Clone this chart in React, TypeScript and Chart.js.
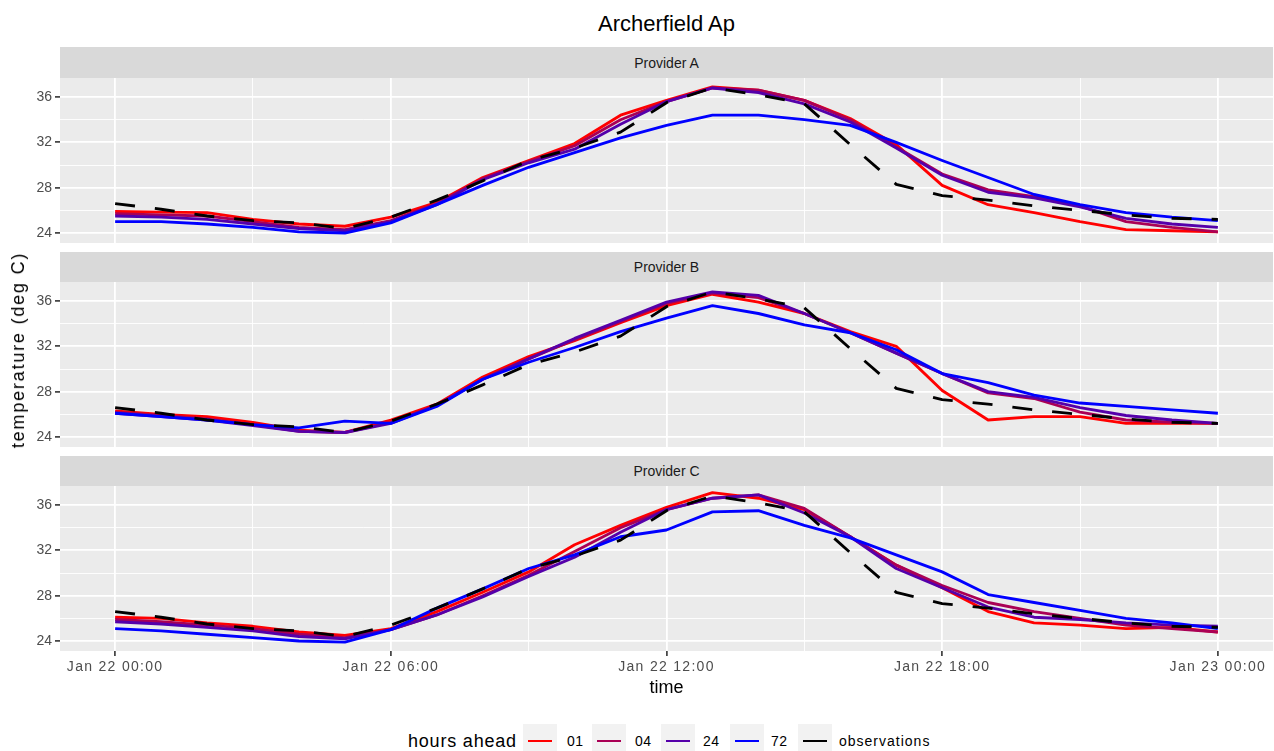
import { useEffect, useRef } from "react";
import { Chart, registerables } from "chart.js";

Chart.register(...registerables);

// Hours after Jan 22 00:00 (local time)
const hours = [0, 1, 2, 3, 4, 5, 6, 7, 8, 9, 10, 11, 12, 13, 14, 15, 16, 17, 18, 19, 20, 21, 22, 23, 24];

const xMajorHours = [0, 6, 12, 18, 24];
const xMinorHours = [3, 9, 15, 21];
const xTickLabels = ["Jan 22 00:00", "Jan 22 06:00", "Jan 22 12:00", "Jan 22 18:00", "Jan 23 00:00"];
const yMajor = [24, 28, 32, 36];
const yMinor = [26, 30, 34];

const leadNames = ["01", "04", "24", "72"];
const leadColors = ["#FF0000", "#AA0055", "#5500AA", "#0000FF"];

// Observed temperature (deg C)
const observations = [26.6, 26.1, 25.5, 25.1, 24.9, 24.4, 25.4, 26.9, 28.6, 30.4, 31.5, 32.9, 35.5, 36.8, 36.2, 35.4, 31.8, 28.3, 27.3, 26.9, 26.4, 26.0, 25.6, 25.3, 25.2];

// Provider A forecasts by lead time
const providerA01 = [25.9, 25.85, 25.8, 25.2, 24.8, 24.6, 25.4, 26.7, 28.9, 30.4, 31.9, 34.4, 35.7, 36.9, 36.6, 35.7, 34.1, 31.8, 28.2, 26.5, 25.8, 25.0, 24.3, 24.2, 24.1];
const providerA04 = [25.7, 25.6, 25.5, 25.0, 24.5, 24.3, 25.1, 26.6, 28.8, 30.3, 31.7, 34.0, 35.6, 36.8, 36.6, 35.7, 34.0, 31.6, 29.2, 27.8, 27.2, 26.4, 25.0, 24.5, 24.1];
const providerA24 = [25.5, 25.4, 25.2, 24.8, 24.4, 24.2, 25.0, 26.5, 28.7, 30.2, 31.4, 33.6, 35.6, 36.8, 36.4, 35.4, 33.8, 31.5, 29.1, 27.6, 27.1, 26.3, 25.3, 24.8, 24.5];
const providerA72 = [25.0, 25.0, 24.8, 24.5, 24.1, 24.0, 24.9, 26.5, 28.2, 29.8, 31.1, 32.4, 33.5, 34.4, 34.4, 34.0, 33.5, 32.0, 30.4, 28.9, 27.4, 26.5, 25.8, 25.4, 25.1];

// Provider B forecasts by lead time
const providerB01 = [26.3, 26.0, 25.8, 25.3, 24.6, 24.4, 25.5, 26.9, 29.3, 31.1, 32.5, 34.1, 35.6, 36.6, 35.9, 34.9, 33.3, 32.0, 28.1, 25.5, 25.8, 25.8, 25.2, 25.2, 25.2];
const providerB04 = [26.2, 25.9, 25.6, 25.1, 24.5, 24.4, 25.3, 26.8, 29.1, 30.9, 32.6, 34.2, 35.8, 36.7, 36.3, 34.9, 33.2, 31.4, 29.6, 27.9, 27.4, 26.2, 25.5, 25.3, 25.2];
const providerB24 = [26.1, 25.8, 25.5, 25.0, 24.5, 24.4, 25.2, 26.8, 29.1, 30.9, 32.7, 34.3, 35.9, 36.8, 36.5, 34.9, 33.2, 31.4, 29.6, 28.0, 27.5, 26.6, 25.9, 25.5, 25.2];
const providerB72 = [26.1, 25.8, 25.5, 25.1, 24.8, 25.4, 25.2, 26.7, 29.1, 30.6, 31.9, 33.3, 34.5, 35.6, 34.9, 33.9, 33.2, 31.7, 29.6, 28.8, 27.7, 27.0, 26.7, 26.4, 26.1];

// Provider C forecasts by lead time
const providerC01 = [26.1, 26.0, 25.6, 25.3, 24.8, 24.5, 25.1, 26.6, 28.3, 30.1, 32.5, 34.2, 35.8, 37.1, 36.6, 35.6, 33.2, 30.7, 28.7, 26.6, 25.6, 25.4, 25.1, 25.2, 24.8];
const providerC04 = [25.9, 25.7, 25.4, 25.1, 24.6, 24.3, 25.0, 26.3, 28.0, 29.8, 31.9, 34.0, 35.6, 36.6, 36.9, 35.7, 33.2, 30.7, 28.9, 27.4, 26.6, 26.0, 25.4, 25.1, 24.8];
const providerC24 = [25.7, 25.5, 25.2, 24.9, 24.4, 24.2, 25.0, 26.3, 27.9, 29.7, 31.4, 33.6, 35.6, 36.6, 36.9, 35.3, 33.2, 30.4, 28.7, 27.0, 26.1, 25.9, 25.6, 25.4, 25.3];
const providerC72 = [25.1, 24.9, 24.6, 24.3, 24.0, 23.9, 25.0, 26.9, 28.6, 30.4, 31.6, 33.2, 33.8, 35.4, 35.5, 34.2, 33.1, 31.6, 30.1, 28.1, 27.4, 26.7, 26.0, 25.6, 25.1];

const FONT = "'Liberation Sans', Arial, Helvetica, sans-serif";
const PLOT_LEFT = 60;
const PLOT_RIGHT = 1273;
const PLOT_H = 165;
const X_MIN = -1.2;
const X_MAX = 25.2;
const Y_MIN = 23.12;
const Y_MAX = 37.68;
const LINE_W = 2.85;

// Grey panel background, plus wider glyph spacing for the time labels
const panelBackground = {
  id: "panelBackground",
  beforeDraw(chart: any) {
    const { ctx, chartArea } = chart;
    ctx.save();
    ctx.fillStyle = "#EBEBEB";
    ctx.fillRect(chartArea.left, chartArea.top, chartArea.right - chartArea.left, chartArea.bottom - chartArea.top);
    ctx.restore();
    ctx.letterSpacing = "1.3px";
  },
  afterDatasetsDraw(chart: any) {
    chart.ctx.letterSpacing = "0px";
  },
};

const noScalePadding = (scale: any) => {
  scale.paddingTop = 0;
  scale.paddingBottom = 0;
  scale.paddingLeft = 0;
  scale.paddingRight = 0;
};

type PanelProps = {
  name: string;
  forecasts: number[][];
  stripTop: number;
  stripH: number;
  plotTop: number;
  bottomAxis: boolean;
};

function Panel({ name, forecasts, stripTop, stripH, plotTop, bottomAxis }: PanelProps) {
  const ref = useRef<HTMLCanvasElement>(null);
  const axisH = bottomAxis ? 30 : 0;

  useEffect(() => {
    if (!ref.current) return;
    const toPoints = (vals: number[]) => hours.map((h, i) => ({ x: h, y: vals[i] }));
    const datasets: any[] = forecasts.map((vals, i) => ({
      label: leadNames[i],
      data: toPoints(vals),
      borderColor: leadColors[i],
      backgroundColor: leadColors[i],
      borderWidth: LINE_W,
      pointRadius: 0,
      tension: 0,
      borderJoinStyle: "round",
      borderCapStyle: "butt",
      order: 4 - i,
    }));
    datasets.push({
      label: "observations",
      data: toPoints(observations),
      borderColor: "#000000",
      backgroundColor: "#000000",
      borderWidth: LINE_W,
      borderDash: [20, 20],
      pointRadius: 0,
      tension: 0,
      borderJoinStyle: "round",
      borderCapStyle: "butt",
      order: 0,
    });

    const chart = new Chart(ref.current, {
      type: "line",
      data: { datasets },
      plugins: [panelBackground],
      options: {
        animation: false,
        responsive: false,
        maintainAspectRatio: false,
        devicePixelRatio: 1,
        layout: { padding: { left: 0, right: 1274 - PLOT_RIGHT, top: 0, bottom: 0 } },
        plugins: { legend: { display: false }, tooltip: { enabled: false }, title: { display: false } },
        scales: {
          x: {
            type: "linear",
            min: X_MIN,
            max: X_MAX,
            border: { display: false },
            afterBuildTicks: (scale: any) => {
              scale.ticks = [...xMajorHours, ...xMinorHours].sort((a, b) => a - b).map((v) => ({ value: v }));
            },
            afterFit: (scale: any) => {
              scale.height = axisH;
              noScalePadding(scale);
            },
            grid: {
              color: "#FFFFFF",
              lineWidth: (c: any) => (xMajorHours.includes(c.tick?.value) ? 1.8 : 0.9),
              drawTicks: bottomAxis,
              tickLength: 5,
              tickColor: (c: any) => (xMajorHours.includes(c.tick?.value) ? "#333333" : "rgba(0,0,0,0)"),
              tickWidth: 1.6,
            },
            ticks: {
              display: bottomAxis,
              autoSkip: false,
              maxRotation: 0,
              minRotation: 0,
              padding: 3,
              color: "#4D4D4D",
              font: { family: FONT, size: 14 },
              callback: (v: any) => {
                const k = xMajorHours.indexOf(Number(v));
                return k >= 0 ? xTickLabels[k] : "";
              },
            },
          },
          y: {
            type: "linear",
            min: Y_MIN,
            max: Y_MAX,
            border: { display: false },
            afterBuildTicks: (scale: any) => {
              scale.ticks = [...yMajor, ...yMinor].sort((a, b) => a - b).map((v) => ({ value: v }));
            },
            afterFit: (scale: any) => {
              scale.width = PLOT_LEFT;
              noScalePadding(scale);
            },
            grid: {
              color: "#FFFFFF",
              lineWidth: (c: any) => (yMajor.includes(c.tick?.value) ? 1.8 : 0.9),
              drawTicks: true,
              tickLength: 5,
              tickColor: (c: any) => (yMajor.includes(c.tick?.value) ? "#333333" : "rgba(0,0,0,0)"),
              tickWidth: 1.6,
            },
            ticks: {
              z: 1,
              padding: 3,
              color: "#4D4D4D",
              font: { family: FONT, size: 14 },
              callback: (v: any) => (yMajor.includes(Number(v)) ? String(v) : ""),
            },
          },
        },
      } as any,
    });
    return () => chart.destroy();
  }, []);

  return (
    <>
      <div
        style={{
          position: "absolute",
          left: PLOT_LEFT,
          top: stripTop,
          width: PLOT_RIGHT - PLOT_LEFT,
          height: stripH,
          background: "#D9D9D9",
          color: "#1A1A1A",
          font: `14px ${FONT}`,
          display: "flex",
          alignItems: "center",
          justifyContent: "center",
        }}
      >
        {name}
      </div>
      <canvas
        ref={ref}
        width={1274}
        height={PLOT_H + axisH}
        style={{ position: "absolute", left: 0, top: plotTop, width: 1274, height: PLOT_H + axisH }}
      />
    </>
  );
}

const legendBoxLefts = [523, 592, 661, 730, 798];
const legendTextLefts = [567, 635, 703, 771, 839];

export default function App() {
  const legendItems = [...leadNames, "observations"];
  const legendColors = [...leadColors, "#000000"];
  return (
    <div
      style={{
        position: "fixed",
        left: 0,
        top: 0,
        width: 1274,
        height: 751,
        overflow: "hidden",
        background: "#FFFFFF",
        fontFamily: FONT,
      }}
    >
      <div
        style={{
          position: "absolute",
          left: PLOT_LEFT,
          width: PLOT_RIGHT - PLOT_LEFT,
          top: 24,
          transform: "translateY(-50%)",
          textAlign: "center",
          fontSize: 22,
          lineHeight: "26px",
          color: "#000",
        }}
      >
        Archerfield Ap
      </div>

      <Panel name="Provider A" forecasts={[providerA01, providerA04, providerA24, providerA72]} stripTop={47} stripH={31} plotTop={78} bottomAxis={false} />
      <Panel name="Provider B" forecasts={[providerB01, providerB04, providerB24, providerB72]} stripTop={252} stripH={30} plotTop={282} bottomAxis={false} />
      <Panel name="Provider C" forecasts={[providerC01, providerC04, providerC24, providerC72]} stripTop={456} stripH={30} plotTop={486} bottomAxis={true} />

      <div
        style={{
          position: "absolute",
          left: 18,
          top: 350,
          transform: "translate(-50%, -50%) rotate(-90deg)",
          whiteSpace: "nowrap",
          fontSize: 18,
          lineHeight: "22px",
          letterSpacing: "1.8px",
          color: "#000",
        }}
      >
        temperature (deg C)
      </div>

      <div
        style={{
          position: "absolute",
          left: PLOT_LEFT,
          width: PLOT_RIGHT - PLOT_LEFT,
          top: 687,
          transform: "translateY(-50%)",
          textAlign: "center",
          fontSize: 18,
          lineHeight: "22px",
          color: "#000",
        }}
      >
        time
      </div>

      <div
        style={{
          position: "absolute",
          left: 408,
          top: 741,
          transform: "translateY(-50%)",
          fontSize: 18,
          lineHeight: "22px",
          letterSpacing: "0.8px",
          color: "#000",
          whiteSpace: "nowrap",
        }}
      >
        hours ahead
      </div>
      {legendItems.map((item, i) => (
        <div key={item}>
          <div
            style={{
              position: "absolute",
              left: legendBoxLefts[i],
              top: 724,
              width: 34,
              height: 34,
              background: "#F2F2F2",
            }}
          >
            <div
              style={{
                position: "absolute",
                left: 5,
                right: 5,
                top: 17 - LINE_W / 2,
                height: LINE_W,
                background: legendColors[i],
              }}
            />
          </div>
          <div
            style={{
              position: "absolute",
              left: legendTextLefts[i],
              top: 741,
              transform: "translateY(-50%)",
              fontSize: 14,
              lineHeight: "18px",
              letterSpacing: i === 4 ? "1px" : "0.5px",
              color: "#000",
              whiteSpace: "nowrap",
            }}
          >
            {item}
          </div>
        </div>
      ))}
    </div>
  );
}
